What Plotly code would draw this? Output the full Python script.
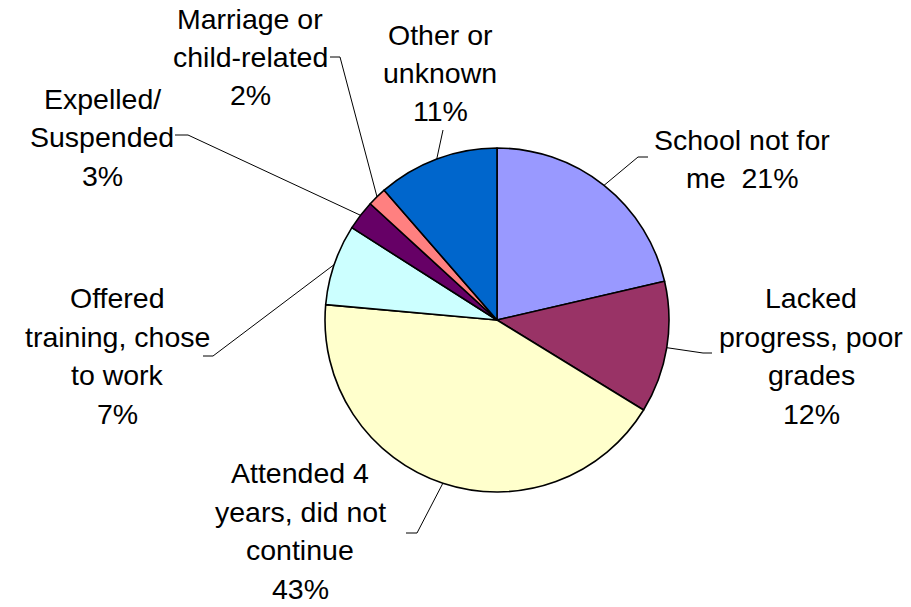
import math
import plotly.graph_objects as go

W, H = 911, 607

categories = ["School not for me", "Lacked progress, poor grades", "Attended 4 years, did not continue",
              "Offered training, chose to work", "Expelled/ Suspended", "Marriage or child-related",
              "Other or unknown"]
values = [21.4, 12.4, 42.7, 7.6, 2.8, 1.8, 11.4]
label_lines = [["School not for", "me  21%"],
               ["Lacked", "progress, poor", "grades", "12%"],
               ["Attended 4", "years, did not", "continue", "43%"],
               ["Offered", "training, chose", "to work", "7%"],
               ["Expelled/", "Suspended", "3%"],
               ["Marriage or", "child-related", "2%"],
               ["Other or", "unknown", "11%"]]
colors = ["#9999FF", "#993366", "#FFFFCC", "#CCFFFF", "#660066", "#FF8080", "#0066CC"]

# layout (pixels)
cx, cy, R = 497, 320, 172
LINE = 38.5
label_pos = [(742, 159), (811, 356), (300, 531), (117, 356), (102, 137), (250, 57), (440, 73)]
# leader line: text-side start point and bend point
leader = [((648, 157), (638, 157)), ((712, 353), (703, 353)), ((406, 533), (417, 533)),
          ((203, 356), (213, 356)), ((175, 135), (188, 135)), ((330, 57), (340, 57)),
          ((443, 130), (443, 130))]

def px(x):
    return x / W

def py(y):
    return 1 - y / H

fig = go.Figure(go.Pie(
    labels=categories, values=values, sort=False, direction="clockwise", rotation=0,
    marker=dict(colors=colors, line=dict(color="black", width=1.6)),
    textinfo="none", hoverinfo="label+percent", showlegend=False,
    domain=dict(x=[px(cx - R), px(cx + R)], y=[py(cy + R), py(cy - R)]),
))

total = sum(values)
cum = 0
shapes = []
annotations = []
for i, v in enumerate(values):
    mid = (cum + v / 2) / total * 2 * math.pi
    cum += v
    ex = cx + R * math.sin(mid)
    ey = cy - R * math.cos(mid)
    (sx, sy), (bx, by) = leader[i]
    path = f"M {px(sx)},{py(sy)} L {px(bx)},{py(by)} L {px(ex)},{py(ey)}"
    shapes.append(dict(type="path", xref="paper", yref="paper", path=path,
                       line=dict(color="black", width=1)))
    lx, ly = label_pos[i]
    lines = label_lines[i]
    n = len(lines)
    for j, t in enumerate(lines):
        yy = ly + (j - (n - 1) / 2) * LINE
        annotations.append(dict(x=px(lx), y=py(yy), xref="paper", yref="paper", text=t,
                                showarrow=False, xanchor="center", yanchor="middle", align="center",
                                font=dict(family="Liberation Sans, Arial, sans-serif", size=28.5,
                                          color="black")))

fig.update_layout(width=W, height=H, margin=dict(l=0, r=0, t=0, b=0),
                  paper_bgcolor="white", plot_bgcolor="white",
                  shapes=shapes, annotations=annotations)
fig.write_html("out.html", config={"displayModeBar": False},
               post_script="document.body.style.margin='0';document.body.style.overflow='hidden';")
